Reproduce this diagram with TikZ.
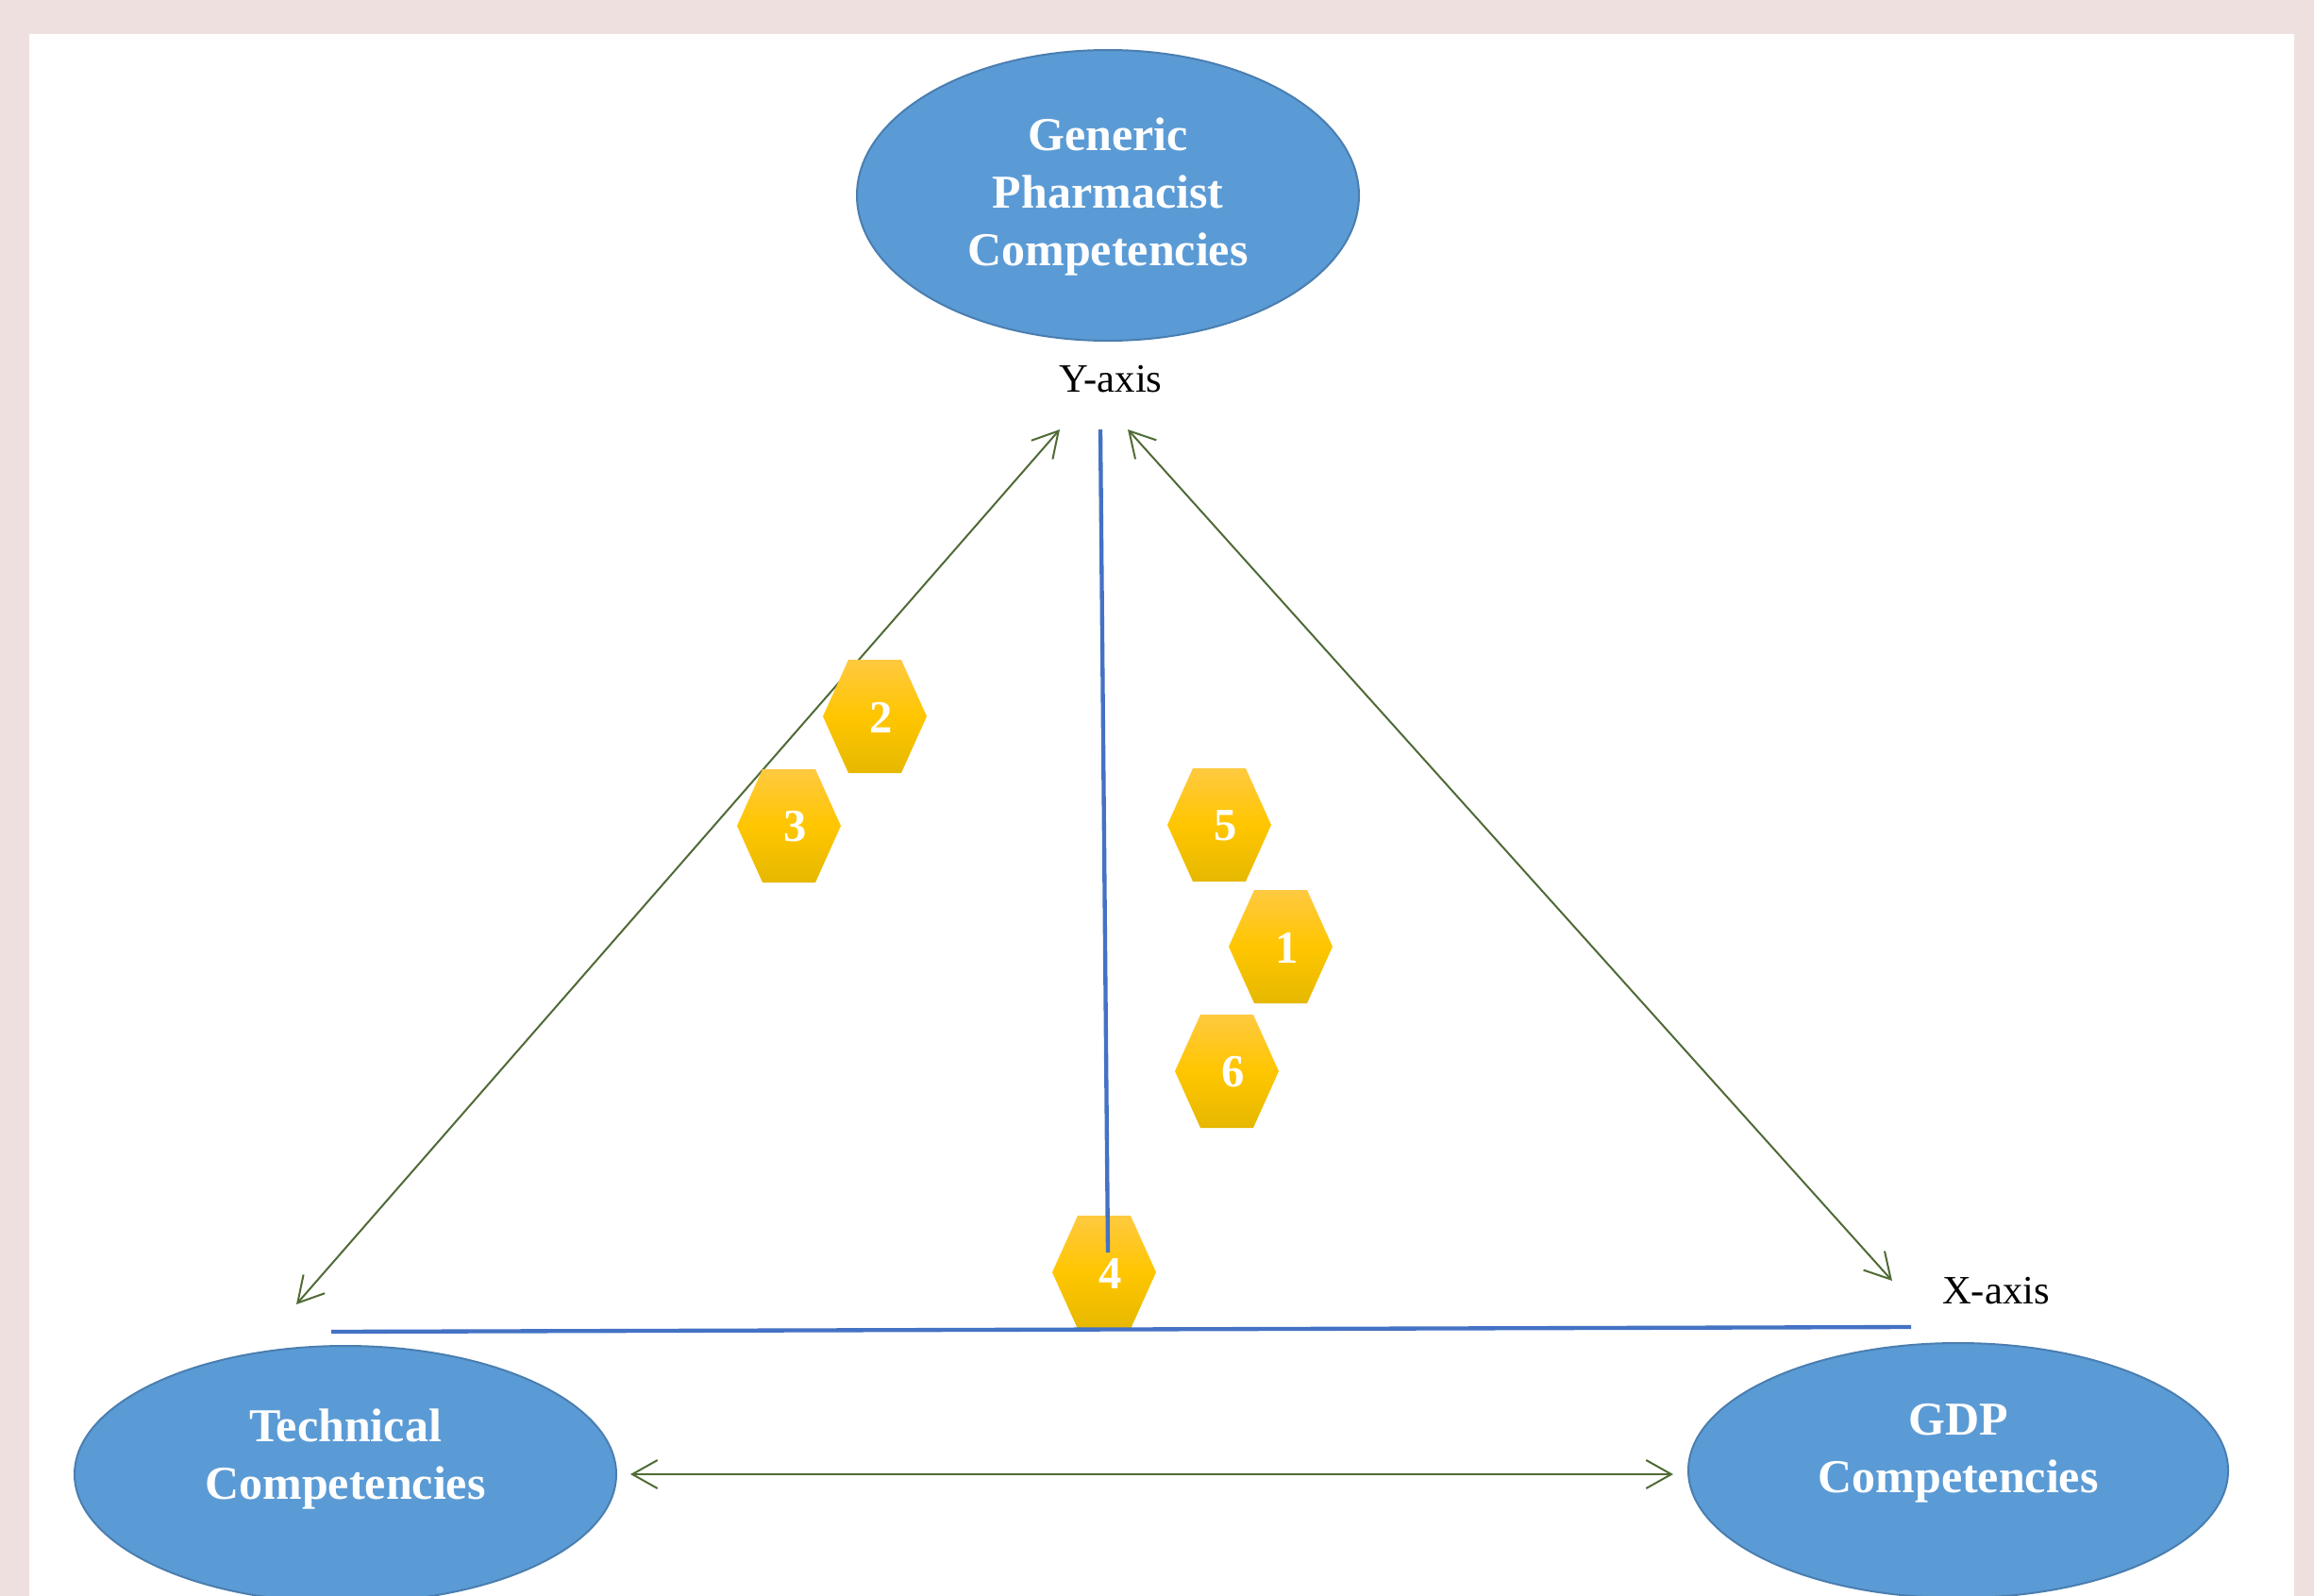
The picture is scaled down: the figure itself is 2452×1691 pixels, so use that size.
\documentclass[tikz,border=0pt]{standalone}
\usepackage{fontspec}
\setmainfont{Liberation Serif}
\usetikzlibrary{shapes.geometric,arrows.meta}
\definecolor{pinkbg}{HTML}{EFE0E0}
\definecolor{ellfill}{HTML}{5B9BD5}
\definecolor{elldraw}{HTML}{4A7EB0}
\definecolor{axisblue}{HTML}{4472C4}
\definecolor{arrgreen}{HTML}{4F6B35}
\definecolor{hextop}{HTML}{FFC940}
\definecolor{hexmid}{HTML}{FFC600}
\definecolor{hexbot}{HTML}{E6B800}
\newcommand\hexat[3]{%
  \shade[hexshade] (#1-55,#2) -- (#1-28,#2-60) -- (#1+28,#2-60) -- (#1+55,#2) -- (#1+28,#2+60) -- (#1-28,#2+60) -- cycle;
  \node[hexnum] (hex#3) at (#1+7,#2+1) {#3};}
\begin{document}
\begin{tikzpicture}[x=0.3pt,y=-0.3pt,
  ell/.style={ellipse, fill=ellfill, draw=elldraw, line width=0.6pt, inner sep=0pt},
  elltext/.style={text=white, font=\bfseries\fontsize{15}{18.3}\selectfont, align=center, inner sep=0pt},
  axislabel/.style={font=\fontsize{12.8}{15}\selectfont, anchor=base, inner sep=0pt},
  link/.style={draw=arrgreen, line width=0.6pt, {Straight Barb[length=8pt,width=9pt]}-{Straight Barb[length=8pt,width=9pt]}},
  axisline/.style={draw=axisblue, line width=1.3pt},
  hexnum/.style={text=white, font=\bfseries\fontsize{14.6}{16}\selectfont, inner sep=0pt},
  hexshade/.style={top color=hextop, bottom color=hexbot, middle color=hexmid, draw=none}]
\useasboundingbox (0,0) rectangle (2452,1691);
\clip (0,0) rectangle (2452,1691);
\fill[pinkbg] (0,0) rectangle (2452,1691);
\fill[white] (31,36) rectangle (2431,1691);

% ellipses
\node[ell, minimum width=532*0.3pt, minimum height=308*0.3pt] (gen) at (1174,207) {};
\node[ell, minimum width=574*0.3pt, minimum height=272*0.3pt] (tech) at (366,1562) {};
\node[ell, minimum width=572*0.3pt, minimum height=270*0.3pt] (gdp) at (2075,1558) {};
\node[elltext] (gentext) at (1174,208) {Generic\\Pharmacist\\Competencies};
\node[elltext] (techtext) at (366,1546) {Technical\\Competencies};
\node[elltext] (gdptext) at (2075,1540) {GDP\\Competencies};

% axis labels
\node[axislabel] (ylab) at (1177,415) {Y-axis};
\node[axislabel] (xlab) at (2115,1381) {X-axis};

% connector end points
\coordinate (yTipL) at (1123,455);
\coordinate (techTip) at (314,1382);
\coordinate (yTipR) at (1195,455);
\coordinate (gdpTip) at (2005,1357);
\coordinate (hL) at (668,1562);
\coordinate (hR) at (1773,1562);
\coordinate (vTop) at (1166,455);
\coordinate (vBot) at (1174,1327);
\coordinate (xL) at (351,1411);
\coordinate (xR) at (2025,1406);

% green double arrows
\draw[link] (techTip) -- (yTipL);
\draw[link] (yTipR) -- (gdpTip);
\draw[link] (hL) -- (hR);

% hexagons
\hexat{927}{759}{2}
\hexat{836}{875}{3}
\hexat{1292}{874}{5}
\hexat{1357}{1003}{1}
\hexat{1300}{1135}{6}
\hexat{1170}{1348}{4}

% blue axes
\draw[axisline] (vTop) -- (vBot);
\draw[axisline] (xL) -- (xR);
\end{tikzpicture}
\end{document}
